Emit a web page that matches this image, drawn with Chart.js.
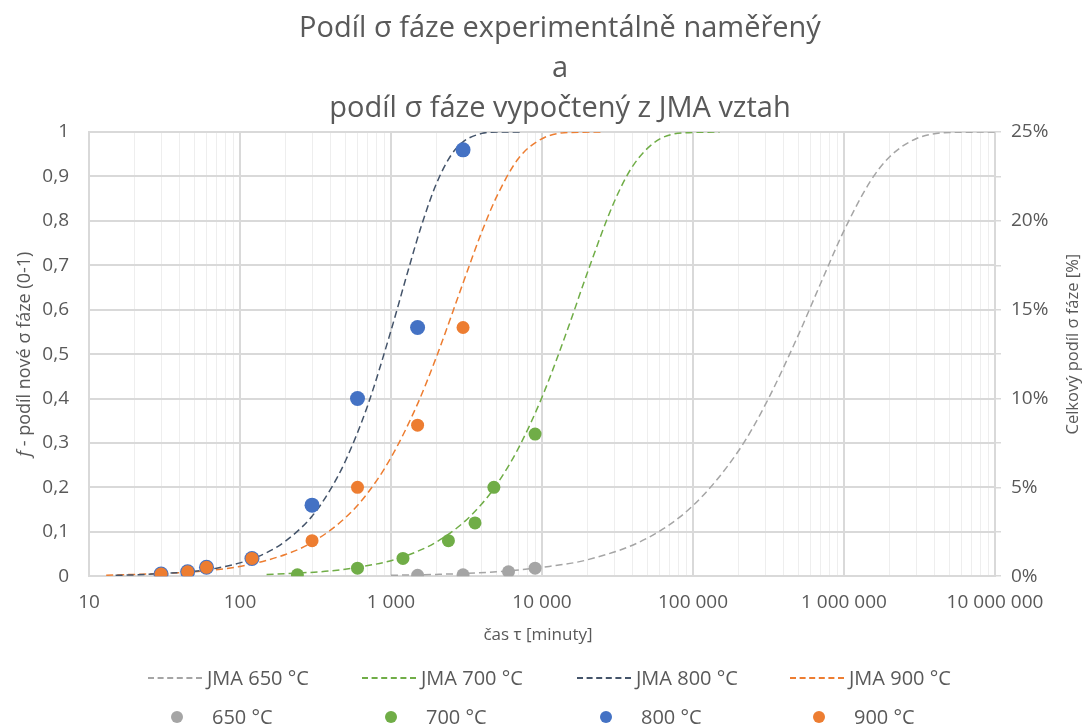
<!DOCTYPE html>
<html>
<head>
<meta charset="utf-8">
<script src="https://cdn.jsdelivr.net/npm/chart.js@4"></script>
<style>
  body { margin: 0; background: #fff; font-family: "Open Sans", sans-serif; }
  #wrap { position: relative; width: 1090px; height: 727px; }
  #legend { position: absolute; left: 0; top: 662px; width: 1090px; color: #595959; font-size: 20px; }
  .row { position: absolute; left: 0; width: 1090px; height: 26px; }
  .item { position: absolute; display: flex; align-items: center; white-space: nowrap; }
  .dash { width: 54px; height: 0; border-top-width: 2px; border-top-style: dashed; margin-right: 5px; }
  .dot { width: 12px; height: 12px; border-radius: 50%; margin: 0 29px 0 0; }
</style>
</head>
<body>
<div id="wrap">
  <canvas id="chart"></canvas>
  <div id="legend"></div>
</div>
<script>
// JMA model curves (time in minutes, fraction 0-1)
const jma650T = [1000, 2000, 5000, 10000, 20000, 50000, 100000, 200000, 300000, 500000, 700000, 1000000, 1500000, 2000000, 3000000, 5000000, 10000000];
const jma650F = [0.002, 0.004, 0.010, 0.020, 0.037, 0.086, 0.159, 0.282, 0.385, 0.544, 0.659, 0.778, 0.890, 0.944, 0.985, 0.999, 1.0];

const jma700T = [150, 240, 400, 600, 1000, 1500, 2000, 3000, 4000, 5000, 7000, 10000, 15000, 20000, 30000, 40000, 60000, 100000, 150000];
const jma700F = [0.004, 0.007, 0.012, 0.020, 0.035, 0.056, 0.077, 0.120, 0.163, 0.206, 0.289, 0.403, 0.562, 0.684, 0.842, 0.924, 0.984, 0.999, 1.0];

const jma800T = [15, 20, 30, 50, 70, 100, 150, 200, 300, 400, 500, 700, 1000, 1300, 1600, 2000, 2500, 3000, 4000, 5000, 7500];
const jma800F = [0.002, 0.003, 0.006, 0.011, 0.018, 0.030, 0.053, 0.079, 0.135, 0.197, 0.26, 0.384, 0.553, 0.689, 0.792, 0.884, 0.948, 0.978, 0.997, 1.0, 1.0];

const jma900T = [13, 20, 30, 50, 100, 200, 300, 500, 700, 1000, 1500, 2000, 3000, 4000, 5000, 7000, 10000, 15000, 25000];
const jma900F = [0.002, 0.004, 0.006, 0.010, 0.022, 0.049, 0.076, 0.132, 0.187, 0.267, 0.388, 0.494, 0.66, 0.776, 0.854, 0.941, 0.985, 0.999, 1.0];

// measured points
const t650 = [1500, 3000, 6000, 9000];
const f650 = [0.002, 0.003, 0.01, 0.018];
const t700 = [240, 600, 1200, 2400, 3600, 4800, 9000];
const f700 = [0.003, 0.018, 0.04, 0.08, 0.12, 0.2, 0.32];
const t800 = [30, 45, 60, 120, 300, 600, 1500, 3000];
const f800 = [0.005, 0.01, 0.02, 0.04, 0.16, 0.4, 0.56, 0.96];
const t900 = [30, 45, 60, 120, 300, 600, 1500, 3000];
const f900 = [0.005, 0.01, 0.02, 0.04, 0.08, 0.2, 0.34, 0.56];

const decades = [10, 100, 1000, 10000, 100000, 1000000, 10000000];
const rightTicks = [0, 2.5, 5, 7.5, 10, 12.5, 15, 17.5, 20, 22.5, 25];

const FONT = 'Open Sans';
const TEXT = '#595959';
const GRID = '#d9d9d9';
const C650 = '#a5a5a5', C700 = '#70ad47', C800L = '#44546a', C800 = '#4472c4', C900 = '#ed7d31';

const pts = (xs, ys) => xs.map((x, i) => ({ x, y: ys[i] }));
const fmt = v => String(v).replace(/\B(?=(\d{3})+(?!\d))/g, ' ');

function jmaSet(label, xs, ys, color) {
  return {
    label, data: pts(xs, ys), showLine: true, borderColor: color, backgroundColor: color,
    borderWidth: 1.5, borderDash: [7, 4], pointRadius: 0, cubicInterpolationMode: 'monotone', order: 10
  };
}
function markSet(label, xs, ys, color, r, order) {
  return {
    label, data: pts(xs, ys), backgroundColor: color, borderColor: color,
    pointRadius: r, pointHoverRadius: r, borderWidth: 0, order
  };
}

const datasets = [
  jmaSet('JMA 650 °C', jma650T, jma650F, C650),
  jmaSet('JMA 700 °C', jma700T, jma700F, C700),
  jmaSet('JMA 800 °C', jma800T, jma800F, C800L),
  jmaSet('JMA 900 °C', jma900T, jma900F, C900),
  markSet('650 °C', t650, f650, C650, 6.5, 4),
  markSet('700 °C', t700, f700, C700, 6.5, 3),
  markSet('800 °C', t800, f800, C800, 7.5, 2),
  markSet('900 °C', t900, f900, C900, 6.5, 1)
];

// axis titles: y titles read bottom-to-top (italic f on the left one), x title under the labels
const axisTitles = {
  id: 'axisTitles',
  afterDraw(chart) {
    const { ctx, chartArea } = chart;
    const midY = (chartArea.top + chartArea.bottom) / 2;
    ctx.save();
    ctx.fillStyle = TEXT;
    ctx.textBaseline = 'middle';
    ctx.font = `italic 18px ${FONT}`;
    const a = 'f';
    const b = ' - podíl nové σ fáze (0-1)';
    const wa = ctx.measureText(a).width;
    ctx.font = `18px ${FONT}`;
    const wb = ctx.measureText(b).width;
    ctx.translate(25, midY);
    ctx.rotate(-Math.PI / 2);
    ctx.textAlign = 'left';
    ctx.font = `italic 18px ${FONT}`;
    ctx.fillText(a, -(wa + wb) / 2, 0);
    ctx.font = `18px ${FONT}`;
    ctx.fillText(b, -(wa + wb) / 2 + wa, 0);
    ctx.restore();

    ctx.save();
    ctx.fillStyle = TEXT;
    ctx.font = `16.5px ${FONT}`;
    ctx.textAlign = 'center';
    ctx.textBaseline = 'middle';
    ctx.translate(1073, midY - 10);
    ctx.rotate(-Math.PI / 2);
    ctx.fillText('Celkový podíl σ fáze [%]', 0, 0);
    ctx.restore();

    ctx.save();
    ctx.fillStyle = TEXT;
    ctx.font = `17px ${FONT}`;
    ctx.textAlign = 'center';
    ctx.textBaseline = 'middle';
    ctx.fillText('čas τ [minuty]', (chartArea.left + chartArea.right) / 2 - 4, chartArea.bottom + 59);
    ctx.restore();
  }
};

new Chart(document.getElementById('chart'), {
  type: 'scatter',
  data: { datasets },
  plugins: [axisTitles],
  options: {
    responsive: true,
    maintainAspectRatio: false,
    animation: false,
    // left padding shifts the title centre to the right, as in the original
    layout: { padding: { left: 30, right: 0, top: 0, bottom: 98 } },
    plugins: {
      legend: { display: false },
      tooltip: { enabled: false },
      title: {
        display: true,
        text: ['Podíl σ fáze experimentálně naměřený', 'a', 'podíl σ fáze vypočtený z JMA vztah'],
        color: TEXT,
        font: { family: FONT, size: 29, weight: 'normal', lineHeight: 1.38 },
        padding: { top: 9, bottom: 3 }
      }
    },
    scales: {
      x: {
        type: 'logarithmic',
        min: 10, max: 10000000,
        afterBuildTicks: s => {
          const ticks = [];
          decades.forEach(d => {
            for (let k = 1; k <= 9; k++) {
              if (d * k <= 10000000) ticks.push({ value: d * k, major: k === 1 });
            }
          });
          s.ticks = ticks;
        },
        grid: {
          drawTicks: false,
          color: c => decades.includes(c.tick.value) ? GRID : '#eeeeee',
          lineWidth: c => decades.includes(c.tick.value) ? 2 : 1
        },
        border: { color: GRID, width: 2 },
        ticks: {
          color: TEXT, font: { family: FONT, size: 19 }, padding: 15, autoSkip: false, maxRotation: 0,
          callback: v => decades.includes(v) ? fmt(v) : ''
        }
      },
      y: {
        min: 0, max: 1,
        afterFit: s => { s.width = 59; },
        grid: { color: GRID, lineWidth: 2, drawTicks: false },
        border: { color: GRID, width: 2 },
        ticks: {
          stepSize: 0.1, color: TEXT, font: { family: FONT, size: 19 }, padding: 20,
          callback: v => String(Math.round(v * 10) / 10).replace('.', ',')
        }
      },
      y2: {
        position: 'right',
        min: 0, max: 25,
        afterFit: s => { s.width = 95; },
        afterBuildTicks: s => { s.ticks = rightTicks.map(v => ({ value: v })); },
        grid: { drawOnChartArea: false, color: GRID, tickLength: 6, lineWidth: 1.5 },
        border: { color: GRID, width: 2 },
        ticks: {
          color: TEXT, font: { family: FONT, size: 19 }, padding: 10,
          callback: v => v % 5 === 0 ? v + '%' : ''
        }
      }
    }
  }
});

// legend: two rows of four, dashed curves on top, markers below
const legend = document.getElementById('legend');
const cols = [148, 362, 577, 790];
const lineRow = document.createElement('div');
lineRow.className = 'row';
lineRow.style.top = '2px';
const dotRow = document.createElement('div');
dotRow.className = 'row';
dotRow.style.top = '41px';
datasets.forEach((ds, i) => {
  const item = document.createElement('div');
  item.className = 'item';
  const sw = document.createElement('span');
  if (i < 4) {
    sw.className = 'dash';
    sw.style.borderTopColor = ds.borderColor;
    item.style.left = cols[i] + 'px';
  } else {
    sw.className = 'dot';
    sw.style.background = ds.backgroundColor;
    item.style.left = (cols[i - 4] + 23) + 'px';
  }
  item.appendChild(sw);
  item.appendChild(document.createTextNode(ds.label));
  (i < 4 ? lineRow : dotRow).appendChild(item);
});
legend.appendChild(lineRow);
legend.appendChild(dotRow);
</script>
</body>
</html>
